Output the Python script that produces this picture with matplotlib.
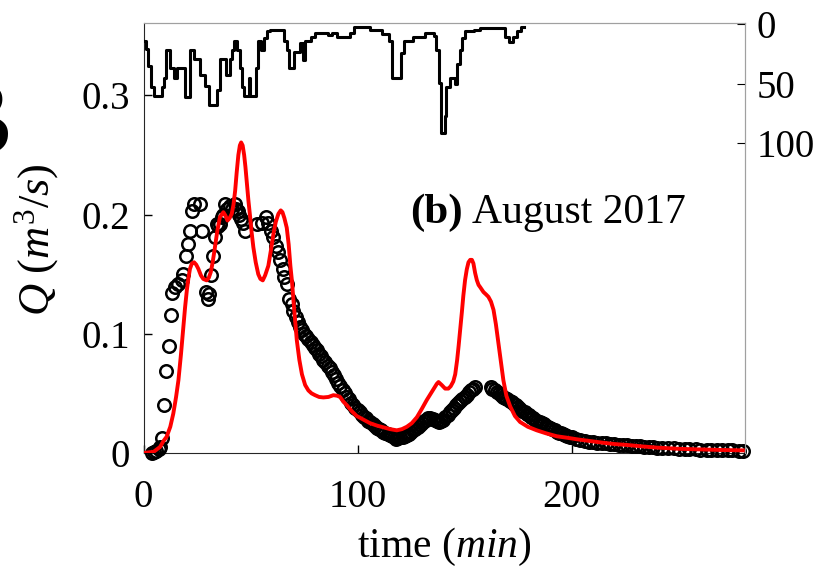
import matplotlib
matplotlib.use('Agg')
import matplotlib.pyplot as plt

plt.rcParams['font.family'] = ['Liberation Serif', 'DejaVu Serif']
plt.rcParams['mathtext.fontset'] = 'custom'
plt.rcParams['mathtext.rm'] = 'Liberation Serif'
plt.rcParams['mathtext.it'] = 'Liberation Serif:italic'
plt.rcParams['mathtext.bf'] = 'Liberation Serif:bold'

# observed discharge (circles)
obs_t = [4, 5, 6, 7, 7.7, 8.5, 9.6, 10.5, 11.8, 12.7, 13.5, 14.5, 16.3, 17.8, 18.3,
         19.9, 21.0, 21.7, 22.5, 23.6, 26.4, 27.5, 29.2, 30.0, 30.5, 31.5, 32.6, 33.4,
         34.2, 35.0, 35.7, 36.5, 37.2, 38.1, 39.0, 40.4, 41.5, 42.7, 43.4, 44.0, 44.7,
         45.7, 46.5, 47.3, 52.9, 55.2, 57.2, 58.3, 59.4, 60.7, 61.9, 63.0, 63.8, 65.0,
         65.7, 66.9, 68.1, 69.2,
         70, 71, 72, 73, 74, 75, 76, 77, 78, 79, 80, 81, 82, 83, 84, 85, 86, 87, 88, 89,
         90, 91, 92, 93, 94, 95, 96, 97, 98, 99, 100, 101, 102, 103, 104, 105, 106, 107,
         108, 109, 110, 111, 112, 113, 114, 115, 116, 117, 118, 119, 120, 121, 122, 123,
         124, 125, 126, 127, 128, 129, 130, 131, 132, 133, 134, 135, 136, 137, 138, 139,
         140, 141, 142, 143, 144, 145, 146, 147, 148, 149, 150, 151, 152, 153, 154, 155,
         162.5, 163, 164, 165, 166, 167, 168, 169, 170, 171, 172, 173, 174, 175, 176, 177,
         178, 179, 180, 181, 182, 183, 184, 185, 186, 187, 188, 189, 190, 191, 192, 193,
         194, 195, 196, 197, 198, 199, 200, 202, 204, 206, 208, 210, 212, 214, 216, 218,
         220, 222, 224, 226, 228, 230, 232, 234, 236, 238, 240, 242, 245, 248, 250, 253,
         255, 258, 260, 263, 265, 268, 270, 273, 275, 278, 280]
obs_q = [0.0, 0.001, 0.002, 0.003, 0.005, 0.0123, 0.040, 0.069, 0.0895, 0.1155, 0.134,
         0.139, 0.142, 0.145, 0.150, 0.165, 0.1755, 0.186, 0.203, 0.209, 0.209, 0.186,
         0.135, 0.1295, 0.133, 0.1495, 0.165, 0.181, 0.192, 0.190, 0.1925, 0.198, 0.200,
         0.209, 0.205, 0.207, 0.205, 0.209, 0.205, 0.203, 0.200, 0.196, 0.193, 0.186,
         0.192, 0.193, 0.198, 0.193, 0.186, 0.181, 0.174, 0.1685, 0.1615, 0.1545,
         0.1475, 0.142, 0.1295, 0.125,
         0.119, 0.114, 0.110, 0.106, 0.103, 0.100, 0.098, 0.096, 0.093, 0.091, 0.088,
         0.086, 0.083, 0.081, 0.078, 0.076, 0.073, 0.071, 0.068, 0.065, 0.062, 0.059,
         0.056, 0.053, 0.050, 0.047, 0.045, 0.042, 0.040, 0.038, 0.036, 0.034, 0.032,
         0.030, 0.029, 0.027, 0.026, 0.024, 0.023, 0.021, 0.020, 0.019, 0.018, 0.017,
         0.016, 0.015, 0.014, 0.013, 0.012, 0.0125, 0.013, 0.0135, 0.014, 0.015, 0.016,
         0.0175, 0.019, 0.0205, 0.022, 0.0235, 0.025, 0.0265, 0.028, 0.029, 0.029,
         0.0285, 0.028, 0.027, 0.026, 0.027, 0.028, 0.030, 0.032, 0.034, 0.036, 0.038,
         0.040, 0.042, 0.044, 0.0455, 0.047, 0.049, 0.051, 0.0525, 0.054, 0.055,
         0.055, 0.054, 0.053, 0.0515, 0.050, 0.0485, 0.047, 0.046, 0.045, 0.044, 0.043,
         0.0415, 0.040, 0.0385, 0.037, 0.0355, 0.034, 0.033, 0.032, 0.0305, 0.029, 0.028,
         0.027, 0.026, 0.025, 0.024, 0.023, 0.022, 0.021, 0.020, 0.019, 0.018, 0.017,
         0.0165, 0.016, 0.015, 0.014, 0.0135, 0.013, 0.012, 0.011, 0.010, 0.009, 0.009,
         0.0085, 0.008, 0.008, 0.0075, 0.0075, 0.007, 0.0068, 0.0065, 0.006, 0.0058,
         0.0055, 0.0052, 0.005, 0.0048, 0.0045, 0.0043, 0.004, 0.0038, 0.0035, 0.0033,
         0.003, 0.003, 0.0028, 0.0027, 0.0025, 0.0024, 0.0023, 0.0022, 0.0021, 0.002,
         0.002]

# simulated discharge (red line)
sim_t = [0, 4.7, 7.7, 9.3, 10.8, 12.5, 13.9, 15.2, 16.3, 17.5, 18.6, 19.4, 20.2, 21.0,
         21.7, 22.6, 23.6, 24.6, 25.6, 26.8, 27.9, 29.5, 30.5, 31.4, 32.2, 32.9, 33.7,
         34.5, 35.7, 37.3, 38.3, 39.2, 40.2, 41.2, 42.0, 42.8, 43.5, 44.3, 45.0, 45.6,
         46.3, 47.0, 47.6, 48.3, 49.0, 49.8, 50.5, 51.3, 52.4, 53.6, 54.6, 55.7, 56.8,
         58.3, 59.5, 60.7, 61.8, 63.0, 64.1, 64.9, 65.8, 66.9, 67.8, 68.6, 69.3, 70.4,
         71.6, 72.8, 74.0, 75.5, 77.0, 78.5, 80.1, 82.0, 84.0, 86.4, 88.7, 90.5, 91.8,
         93.4, 95.0, 97.3, 99.6, 102.7, 105.8, 109.0, 112.1, 115.2, 118.3, 120.7, 123.0,
         125.3, 127.7, 130.0, 132.3, 134.6, 137.0, 137.8, 139.3, 140.9, 142.4, 143.5,
         144.7, 145.6, 146.5, 147.2, 147.9, 148.7, 149.4, 150.2, 151.0, 151.8, 152.6,
         153.4, 154.1, 154.9, 155.7, 156.5, 157.3, 158.8, 160.0, 161.1, 162.3, 163.5,
         164.6, 165.8, 167.0, 168.1, 169.5, 171.3, 173.5, 175.9, 179.5, 183.7, 188.0,
         193.1, 197.8, 202.4, 208.6, 215, 220, 226, 233, 240, 250, 260, 270, 280]
sim_q = [0.0, 0.001, 0.005, 0.010, 0.0136, 0.022, 0.033, 0.047, 0.061, 0.083, 0.1057,
         0.122, 0.136, 0.147, 0.1545, 0.159, 0.160, 0.158, 0.1545, 0.149, 0.146, 0.1448,
         0.147, 0.1517, 0.159, 0.167, 0.177, 0.1866, 0.198, 0.202, 0.199, 0.195, 0.197,
         0.2006, 0.208, 0.220, 0.235, 0.250, 0.258, 0.2605, 0.258, 0.250, 0.240, 0.226,
         0.2117, 0.198, 0.185, 0.1726, 0.160, 0.150, 0.146, 0.1448, 0.149, 0.157, 0.170,
         0.184, 0.194, 0.2006, 0.2035, 0.202, 0.197, 0.189, 0.175, 0.157, 0.1448, 0.120,
         0.0946, 0.078, 0.066, 0.057, 0.0525, 0.050, 0.0485, 0.047, 0.0466, 0.047,
         0.0485, 0.048, 0.047, 0.043, 0.040, 0.035, 0.031, 0.028, 0.025, 0.023, 0.0215,
         0.020, 0.019, 0.020, 0.022, 0.025, 0.030, 0.037, 0.0444, 0.051, 0.058, 0.0595,
         0.057, 0.054, 0.054, 0.056, 0.060, 0.066, 0.078, 0.090, 0.103, 0.118, 0.132,
         0.145, 0.154, 0.160, 0.162, 0.162, 0.159, 0.151, 0.145, 0.141, 0.139, 0.135,
         0.133, 0.131, 0.127, 0.120, 0.108, 0.092, 0.076, 0.061, 0.048, 0.039, 0.031,
         0.026, 0.022, 0.019, 0.0165, 0.014, 0.0128, 0.0115, 0.010, 0.0085, 0.0075,
         0.0067, 0.0055, 0.0045, 0.0035, 0.003, 0.0025, 0.0022]

# rainfall (step line, right axis, inverted)
rain_t = [0, 1.1, 2.3, 3.6, 4.7, 8.6, 9.7, 10.6, 12.5, 14.0, 15.6, 17.9, 19.5, 21.8,
          23.4, 26.5, 28.8, 30.4, 34.3, 35.5, 37.4, 38.6, 40.5, 41.3, 42.4, 43.6, 44.9,
          46.0, 46.7, 49.1, 49.8, 52.5, 53.3, 54.8, 56.4, 57.9, 59.2, 65.4, 67.0, 67.8,
          70.4, 73.2, 74.5, 75.5, 78.2, 80.2, 86.1, 88.0, 90.3, 96.3, 98.1, 105.9, 111.4,
          114.5, 116.0, 120.2, 121.5, 125.9, 131.6, 135.5, 136.8, 137.9, 139.1, 140.7,
          141.4, 143.0, 145.6, 146.4, 147.7, 148.8, 150.3, 154.2, 157.3, 169.0, 170.6,
          172.6, 174.5, 176.4, 177.6]
rain_i = [14, 21, 35, 53, 60, 53, 45, 22, 37, 45, 37, 37, 61, 22, 29, 43, 52, 68, 55, 29,
          29, 43, 29, 22, 14, 22, 37, 53, 60, 45, 60, 37, 14, 22, 12, 6, 5, 14, 22, 37,
          23, 16, 30, 14, 11, 7, 9, 7, 11, 7, 2, 5, 8, 14, 45, 24, 14, 11, 7.5, 10, 22,
          49, 91, 77, 53, 45, 50, 33, 22, 12, 6, 5, 3, 11, 15, 11, 6, 2, 2]

fig = plt.figure(figsize=(8.23, 5.68), dpi=100)
ax = fig.add_axes([0.1744, 0.2025, 0.7309, 0.757])

ax.plot(obs_t, obs_q, 'o', ms=9, mfc='none', mec='black', mew=1.8, clip_on=False, zorder=3)
ax.plot(sim_t, sim_q, '-', color='#ff0000', lw=2.8, zorder=4)

ax.set_xlim(0, 281)
ax.set_ylim(0, 0.3607)
ax.set_xticks([0, 100, 200])
ax.set_yticks([0, 0.1, 0.2, 0.3])
ax.set_yticklabels(['0', '0.1', '0.2', '0.3'])
ax.tick_params(direction='in', length=6, labelsize=28, width=1)
ax.tick_params(axis='x', pad=19)
ax.tick_params(axis='y', pad=10)
for s in ['left', 'bottom']:
    ax.spines[s].set_color('#262626')
for s in ['top', 'right']:
    ax.spines[s].set_color('#a0a0a0')

ax.set_xlabel('time ($min$)', fontsize=30)
ax.xaxis.set_label_coords(0.5, -0.17)
ax.set_ylabel('$Q\\ (m^3/s)$', fontsize=32)
ax.yaxis.set_label_coords(-0.137, 0.495)

ax2 = ax.twinx()
ax2.plot(rain_t, rain_i, drawstyle='steps-post', color='black', lw=2.2)
ax2.set_ylim(360, -1)
ax2.set_yticks([0, 50, 100])
ax2.tick_params(direction='in', length=6, labelsize=28, pad=8)
for s in ['left', 'bottom']:
    ax2.spines[s].set_visible(False)
for s in ['top', 'right']:
    ax2.spines[s].set_color('#a0a0a0')

ax.text(0.443, 0.535, '(b)', transform=ax.transAxes, fontsize=31,
        fontweight='bold', va='baseline', ha='left')
ax.text(0.546, 0.535, 'August 2017', transform=ax.transAxes, fontsize=30,
        va='baseline', ha='left')

# piece of a neighbouring panel's label cut off at the left edge
fig.text(0.012, 0.727, 'B', fontsize=80, fontweight='bold', ha='right', va='baseline')

fig.savefig('out.png', dpi=100)
